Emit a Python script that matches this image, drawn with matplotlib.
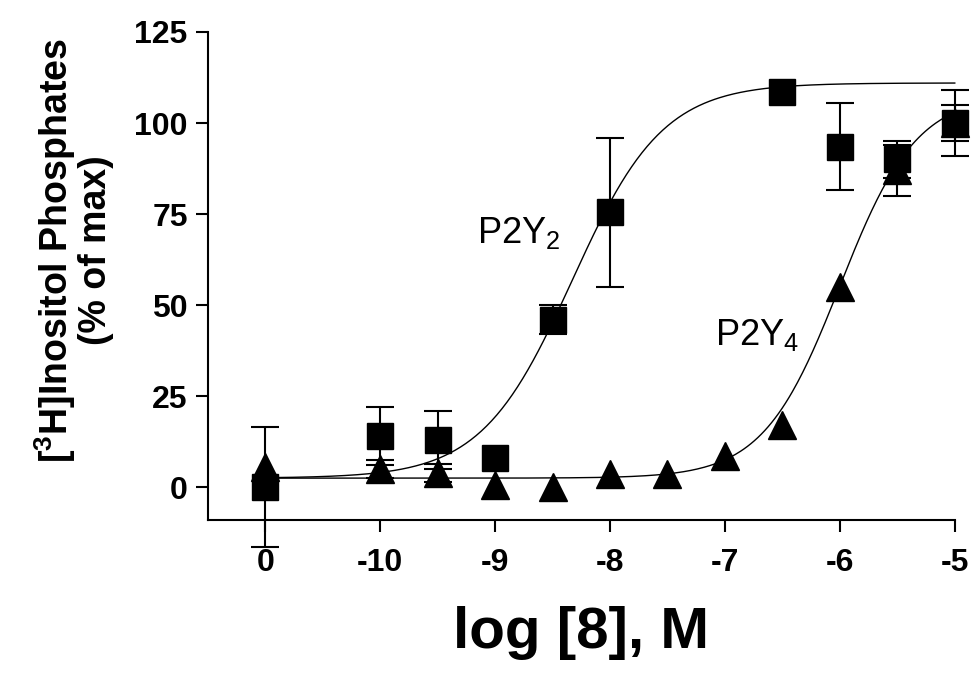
import numpy as np
import matplotlib.pyplot as plt

plt.rcParams['font.family'] = ['Liberation Sans', 'DejaVu Sans']
plt.rcParams['mathtext.fontset'] = 'custom'
plt.rcParams['mathtext.rm'] = 'Liberation Sans'
plt.rcParams['mathtext.bf'] = 'Liberation Sans:bold'
plt.rcParams['mathtext.default'] = 'regular'

# control ("0") is drawn at x = -11 on the same axis
tick_pos = [-11, -10, -9, -8, -7, -6, -5]
tick_labels = ['0', '-10', '-9', '-8', '-7', '-6', '-5']

# P2Y2 (squares)
p2y2_x = [-11, -10, -9.5, -9, -8.5, -8, -6.5, -6, -5.5, -5]
p2y2_y = [0, 14, 13, 8, 46, 75.5, 108.5, 93.5, 90, 100]
p2y2_err = [16.5, 8, 8, 0, 4, 20.5, 0, 12, 5, 9]

# P2Y4 (triangles)
p2y4_x = [-11, -10, -9.5, -9, -8.5, -8, -7.5, -7, -6.5, -6, -5.5, -5]
p2y4_y = [5.5, 5, 4, 0.5, 0, 3.5, 3.5, 8.5, 17, 55, 87, 100]
p2y4_err = [0, 2.5, 2.5, 0, 0, 0, 0, 0, 0, 0, 7, 5]

# fitted curves: bottom, top, logEC50, hill
fit_p2y2 = (2.5, 111, -8.33, 1.1)
fit_p2y4 = (2.5, 108, -6.0, 1.3)


def sigmoid(x, bottom, top, ec50, hill):
    return bottom + (top - bottom) / (1 + 10 ** ((ec50 - x) * hill))


def draw_series(ax, x, y, err, marker, ms, z):
    x, y, err = np.array(x), np.array(y), np.array(err)
    m = err > 0
    ax.errorbar(x[m], y[m], yerr=err[m], fmt='none', ecolor='black',
                capsize=10, elinewidth=1.5, capthick=1.5, clip_on=False, zorder=z)
    ax.plot(x, y, marker, color='black', ms=ms, ls='none', clip_on=False, zorder=z)


fig = plt.figure(figsize=(9.71, 6.73), dpi=100)
ax = fig.add_axes([0.214, 0.2273, 0.7693, 0.7252])

xs = np.linspace(-11, -5, 400)
ax.plot(xs, sigmoid(xs, *fit_p2y2), color='black', lw=1.0, clip_on=False)
ax.plot(xs, sigmoid(xs, *fit_p2y4), color='black', lw=1.0, clip_on=False)

draw_series(ax, p2y2_x, p2y2_y, p2y2_err, 's', 19, 3)
draw_series(ax, p2y4_x, p2y4_y, p2y4_err, '^', 20, 4)

ax.text(-9.16, 67, 'P2Y$_2$', fontsize=26, ha='left', va='baseline')
ax.text(-7.09, 39, 'P2Y$_4$', fontsize=26, ha='left', va='baseline')

ax.set_xlim(-11.5, -5)
ax.set_ylim(-9, 125)
ax.set_xticks(tick_pos)
ax.set_xticklabels(tick_labels)
ax.set_yticks([0, 25, 50, 75, 100, 125])

for s in ['top', 'right']:
    ax.spines[s].set_visible(False)
for s in ['left', 'bottom']:
    ax.spines[s].set_linewidth(1.5)
ax.tick_params(width=1.5, length=8.5, labelsize=23)
ax.tick_params(axis='x', pad=12)
ax.tick_params(axis='y', pad=6)
for lab in ax.get_xticklabels() + ax.get_yticklabels():
    lab.set_fontweight('bold')

ax.set_xlabel('log [8], M', fontsize=42, fontweight='bold', labelpad=20)
ax.set_ylabel('[$^\\mathbf{3}$H]Inositol Phosphates\n(% of max)', fontsize=27,
              fontweight='bold', linespacing=1.0)
ax.yaxis.set_label_coords(-0.125, 0.553)

fig.savefig('out.png', dpi=100)
